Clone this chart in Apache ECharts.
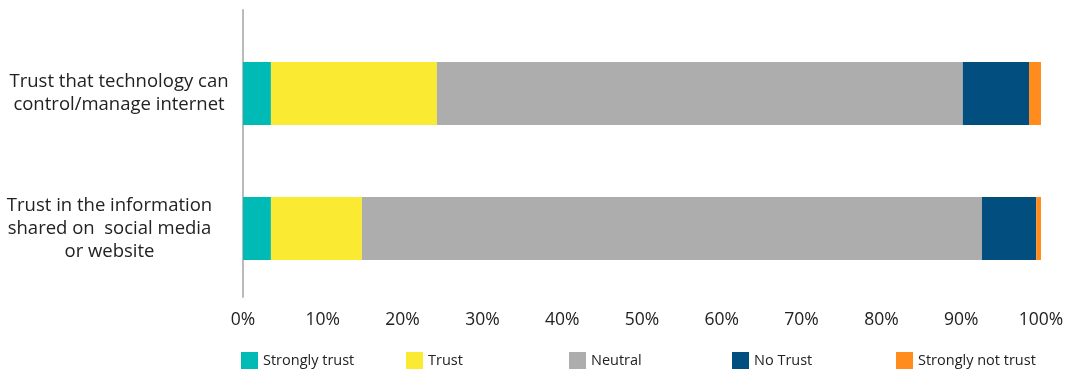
<!DOCTYPE html>
<html><head><meta charset="utf-8">
<script src="https://cdn.jsdelivr.net/npm/echarts@6/dist/echarts.min.js"></script>
<style>html,body{margin:0;padding:0;background:#fff}#c{width:1075px;height:371px}</style>
</head><body><div id="c"></div>
<script>
// bottom-to-top order (ECharts category axis draws first item at bottom)
const categories = ['Trust in the information\nshared on  social media\nor website', 'Trust that technology can\ncontrol/manage internet'];
const seriesNames = ['Strongly trust', 'Trust', 'Neutral', 'No Trust', 'Strongly not trust'];
const stronglyTrust = [3.5, 3.5];
const trust = [11.4, 20.8];
const neutral = [77.7, 65.9];
const noTrust = [6.8, 8.3];
const stronglyNotTrust = [0.6, 1.5];
const xTicks = [0, 10, 20, 30, 40, 50, 60, 70, 80, 90, 100];
const colors = ['#00BBB5', '#FAEB32', '#ADADAD', '#024F7F', '#FF8C1C'];

const values = [stronglyTrust, trust, neutral, noTrust, stronglyNotTrust];
const font = 'Open Sans';
const legendLefts = [236, 401, 564, 727, 891];
const richKeys = ['s', 'n'];

const chart = echarts.init(document.getElementById('c'));
chart.setOption({
  animation: false,
  textStyle: { fontFamily: font },
  grid: [
    { left: 243, right: 34, top: 26, bottom: 75, containLabel: false, outerBoundsMode: 'none' },
    { left: 243, right: 34, top: 10, bottom: 74, containLabel: false, outerBoundsMode: 'none' }
  ],
  legend: seriesNames.map((n, i) => ({
    data: [n], left: legendLefts[i], top: 347, icon: 'rect', itemWidth: 17, itemHeight: 17, itemGap: 6,
    textStyle: { fontFamily: font, fontSize: 14.5, color: '#222' }, selectedMode: false
  })),
  xAxis: [{
    type: 'value', gridIndex: 0, min: xTicks[0], max: xTicks[xTicks.length - 1], interval: 10,
    axisLine: { show: false }, axisTick: { show: false }, splitLine: { show: false },
    axisLabel: { formatter: v => v + '%', fontSize: 17.5, color: '#222', margin: 15 }
  }, {
    type: 'value', gridIndex: 1, show: false, min: 0, max: 100
  }],
  yAxis: [{
    type: 'category', gridIndex: 0,
    data: categories,
    axisLine: { show: false },
    axisTick: { show: false },
    axisLabel: {
      fontSize: 18.5, color: '#222', align: 'center', lineHeight: 23, margin: 124,
      formatter: (v, i) => v.split('\n').map(l => '{' + richKeys[i] + '|' + l + '}').join('\n'),
      rich: {
        s: { fontFamily: font, fontSize: 18.5, lineHeight: 23, color: '#222', align: 'center', padding: [0, 19, 0, 0] },
        n: { fontFamily: font, fontSize: 18.5, lineHeight: 23, color: '#222', align: 'center' }
      }
    }
  }, {
    type: 'category', gridIndex: 1, data: [''],
    axisLine: { show: true, lineStyle: { color: '#BBBBBB', width: 2 } },
    axisTick: { show: false }, axisLabel: { show: false }
  }],
  series: seriesNames.map((n, i) => ({
    name: n, type: 'bar', stack: 'total', barWidth: 63, xAxisIndex: 0, yAxisIndex: 0,
    itemStyle: { color: colors[i] },
    data: values[i]
  }))
});
</script></body></html>
